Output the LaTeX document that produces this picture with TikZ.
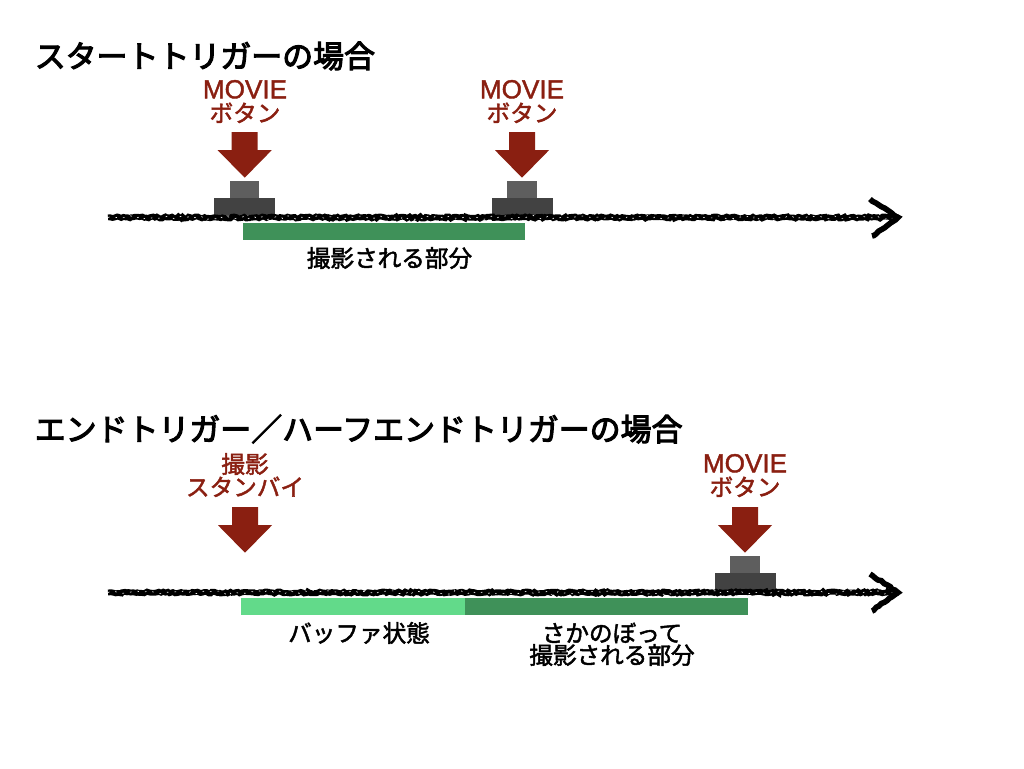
\documentclass[tikz,border=0pt]{standalone}
\usepackage{fontspec}
\setmainfont{Noto Sans CJK JP}
\newfontfamily\labelfont[FakeBold=2]{Noto Sans CJK JP}
\newfontfamily\titlefont[FakeBold=3.5]{Noto Sans CJK JP}
\newfontfamily\latinfont[FakeBold=1.5]{Liberation Sans}
\usetikzlibrary{decorations.pathmorphing}
\definecolor{brickred}{HTML}{8A1F11}
\definecolor{darkgreen}{HTML}{3F9159}
\definecolor{lightgreen}{HTML}{62DA8A}
\definecolor{btntop}{HTML}{5E5E5E}
\definecolor{btnbase}{HTML}{424242}
\pgfmathsetseed{7}
\tikzset{
  title/.style={anchor=west,inner sep=0pt,font=\titlefont\fontsize{23.2}{23.2}\selectfont,text=black},
  redlabel/.style={inner sep=0pt,text height=0.8em,text depth=0.06em,font=\labelfont\fontsize{17.7}{17.7}\selectfont,text=brickred},
  moviebl/.style={inner sep=0pt,text height=0.72em,text depth=0pt,font=\latinfont\fontsize{19.6}{19.6}\selectfont,text=brickred},
  blacklabel/.style={inner sep=0pt,text height=0.8em,text depth=0.06em,font=\labelfont\fontsize{17.7}{17.7}\selectfont,text=black},
  chalk/.style={draw=black,line width=4.4pt,
    decorate,decoration={random steps,segment length=1.6pt,amplitude=0.75pt}},
  chalkspeck/.style={draw=white,line width=0.45pt,dash pattern=on 1.2pt off 4.5pt,
    decorate,decoration={random steps,segment length=3pt,amplitude=1.5pt}},
  chalkhead/.style={draw=black,line width=4.2pt,line join=miter,
    decorate,decoration={random steps,segment length=2.5pt,amplitude=0.55pt}},
  bar/.style={draw=none,inner sep=0pt,minimum height=12.75pt,anchor=west},
  pushdown/.pic={
    \fill[brickred] (-13,-45.5) -- (13,-45.5) -- (13,-27.5) -- (27,-27.5) -- (0,0) -- (-27,-27.5) -- (-13,-27.5) -- cycle;
  },
  movebutton/.pic={
    \fill[btntop] (-14.7,-36) rectangle (14.7,-19);
    \fill[btnbase] (-30.5,-19.5) rectangle (30.5,-2);
  },
}
\begin{document}
\begin{tikzpicture}[x=0.75pt,y=-0.75pt]
\useasboundingbox (0,0) rectangle (1024,768);
% titles
\node[title] (t1) at (34.5,56) {スタートトリガーの場合};
\node[title] (t2) at (34.5,429) {エンドトリガー／ハーフエンドトリガーの場合};
% row 1
\coordinate (a1s) at (108,217.5);
\coordinate (a1e) at (898,217.5);
\coordinate (a1u) at (870,199);
\coordinate (a1d) at (872,236);
\pic at (244.7,217) {movebutton};
\pic at (522,217) {movebutton};
\draw[chalk] (a1s) -- (a1e);
\draw[chalkspeck] (a1s) -- (a1e);
\draw[chalkhead] (a1u) -- (a1e) -- (a1d);
\pic at (244.7,177.7) {pushdown};
\pic at (522,177.7) {pushdown};
\node[moviebl] (m1) at (245,93.5) {MOVIE};
\node[redlabel] (b1) at (245,117) {ボタン};
\node[moviebl] (m2) at (522,93.5) {MOVIE};
\node[redlabel] (b2) at (522,117) {ボタン};
\node[bar,fill=darkgreen,minimum width=212pt] (g1) at (242.5,231.5) {};
\node[blacklabel] (c1) at (389.5,262) {撮影される部分};
% row 2
\coordinate (a2s) at (108,592.5);
\coordinate (a2e) at (898,592.5);
\coordinate (a2u) at (870,574);
\coordinate (a2d) at (872,611);
\pic at (745,592) {movebutton};
\draw[chalk] (a2s) -- (a2e);
\draw[chalkspeck] (a2s) -- (a2e);
\draw[chalkhead] (a2u) -- (a2e) -- (a2d);
\pic at (245,552.7) {pushdown};
\pic at (745,552.7) {pushdown};
\node[redlabel] (s1) at (245,468) {撮影};
\node[redlabel] (s2) at (245,491) {スタンバイ};
\node[moviebl] (m3) at (745,467.5) {MOVIE};
\node[redlabel] (b3) at (745,491) {ボタン};
\node[bar,fill=darkgreen,minimum width=212pt] (g3) at (465,606.5) {};
\node[bar,fill=lightgreen,minimum width=168pt] (g2) at (241,606.5) {};
\node[blacklabel] (c2) at (359,637) {バッファ状態};
\node[blacklabel] (c3) at (612,637) {さかのぼって};
\node[blacklabel] (c4) at (612,659) {撮影される部分};
\end{tikzpicture}
\end{document}
